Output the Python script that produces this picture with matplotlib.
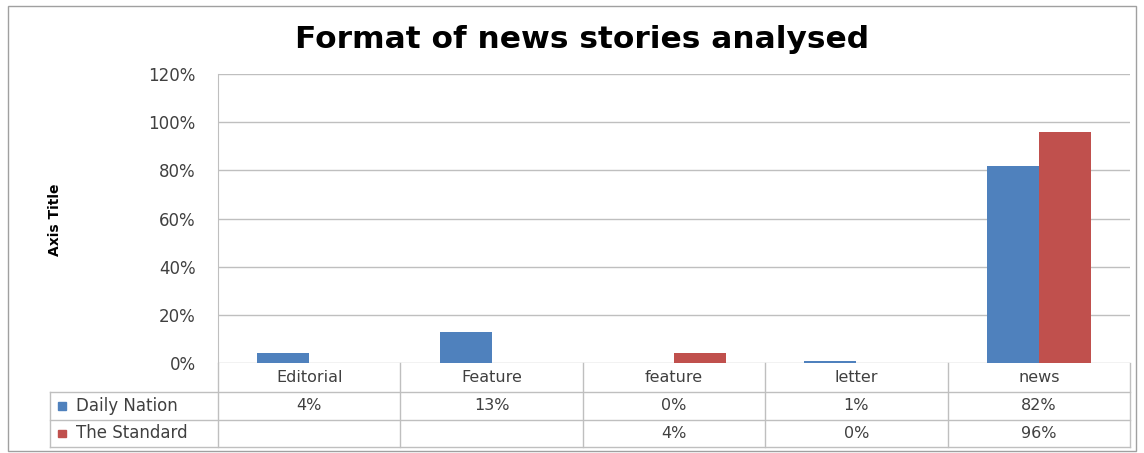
import numpy as np
import matplotlib
matplotlib.use("Agg")
import matplotlib.pyplot as plt
from matplotlib.patches import Rectangle

categories = ["Editorial", "Feature", "feature", "letter", "news"]
series_names = ["Daily Nation", "The Standard"]
daily_nation = [4, 13, 0, 1, 82]
the_standard = [np.nan, np.nan, 4, 0, 96]
colors = ["#4F81BD", "#C0504D"]

plt.rcParams["font.family"] = ["DejaVu Sans"]

W, H = 1144, 453
fig = plt.figure(figsize=(W / 100, H / 100), dpi=100)

# plot area in pixels
x0, x1, y0, y1 = 218, 1130, 74, 363
ax = fig.add_axes([x0 / W, 1 - y1 / H, (x1 - x0) / W, (y1 - y0) / H])

n = len(categories)
idx = np.arange(n)
bw = 0.285
for i, vals in enumerate([daily_nation, the_standard]):
    v = np.nan_to_num(np.array(vals, dtype=float))
    ax.bar(idx + (i - 0.5) * bw, v, bw, color=colors[i], zorder=3)

ax.set_xlim(-0.5, n - 0.5)
ax.set_ylim(0, 120)
ax.set_yticks(np.arange(0, 121, 20))
ax.set_yticklabels([f"{t}%" for t in range(0, 121, 20)], color="#404040", fontsize=12)
ax.tick_params(axis="y", length=0, pad=16)
ax.set_xticks([])
ax.yaxis.grid(True, color="#BFBFBF", linewidth=1, zorder=0)
for s in ["top", "right", "bottom"]:
    ax.spines[s].set_visible(False)
ax.spines["left"].set_color("#BFBFBF")

# data table under the plot
def ay(p):  # pixel row -> axes y
    return -(p - y1) / (y1 - y0)

def axx(p):  # pixel column -> axes x
    return (p - x0) / (x1 - x0)

rows_y = [363, 392, 420, 447]
leg_x = axx(50)
lc = "#BFBFBF"
kw = dict(transform=ax.transAxes, clip_on=False, color=lc, linewidth=1)
for r in rows_y[1:]:
    ax.plot([leg_x, 1], [ay(r), ay(r)], **kw)
for k in range(n + 1):
    ax.plot([k / n, k / n], [0, ay(rows_y[-1])], **kw)
ax.plot([leg_x, leg_x], [ay(rows_y[1]), ay(rows_y[-1])], **kw)

tc = "#404040"
fs = 11.5
for k, c in enumerate(categories):
    ax.text((k + 0.5) / n, ay((rows_y[0] + rows_y[1]) / 2), c, transform=ax.transAxes,
            ha="center", va="center", fontsize=fs, color=tc)
for j, vals in enumerate([daily_nation, the_standard]):
    ym = ay((rows_y[j + 1] + rows_y[j + 2]) / 2)
    for k, v in enumerate(vals):
        if not np.isnan(v):
            ax.text((k + 0.5) / n, ym, f"{v:.0f}%", transform=ax.transAxes,
                    ha="center", va="center", fontsize=fs, color=tc)
    ax.text(axx(76), ym, series_names[j], transform=ax.transAxes,
            ha="left", va="center", fontsize=12, color=tc)
    ax.add_patch(Rectangle((axx(58), ym - 0.013), 8 / (x1 - x0), 0.026,
                           transform=ax.transAxes, clip_on=False,
                           color=colors[j]))

fig.text(582 / W, 1 - 40 / H, "Format of news stories analysed", ha="center",
         va="center", fontsize=22.5, fontweight="bold", color="#000000")
fig.text(55 / W, 1 - 220 / H, "Axis Title", rotation=90, ha="center", va="center",
         fontsize=10, fontweight="bold",
         family=["DejaVu Sans Condensed", "DejaVu Sans"])

fig.patches.append(Rectangle((8 / W, 1 - 451 / H), 1128 / W, 445 / H,
                             transform=fig.transFigure, fill=False,
                             edgecolor="#A0A0A0", linewidth=1))

fig.savefig("out.png", dpi=100)
